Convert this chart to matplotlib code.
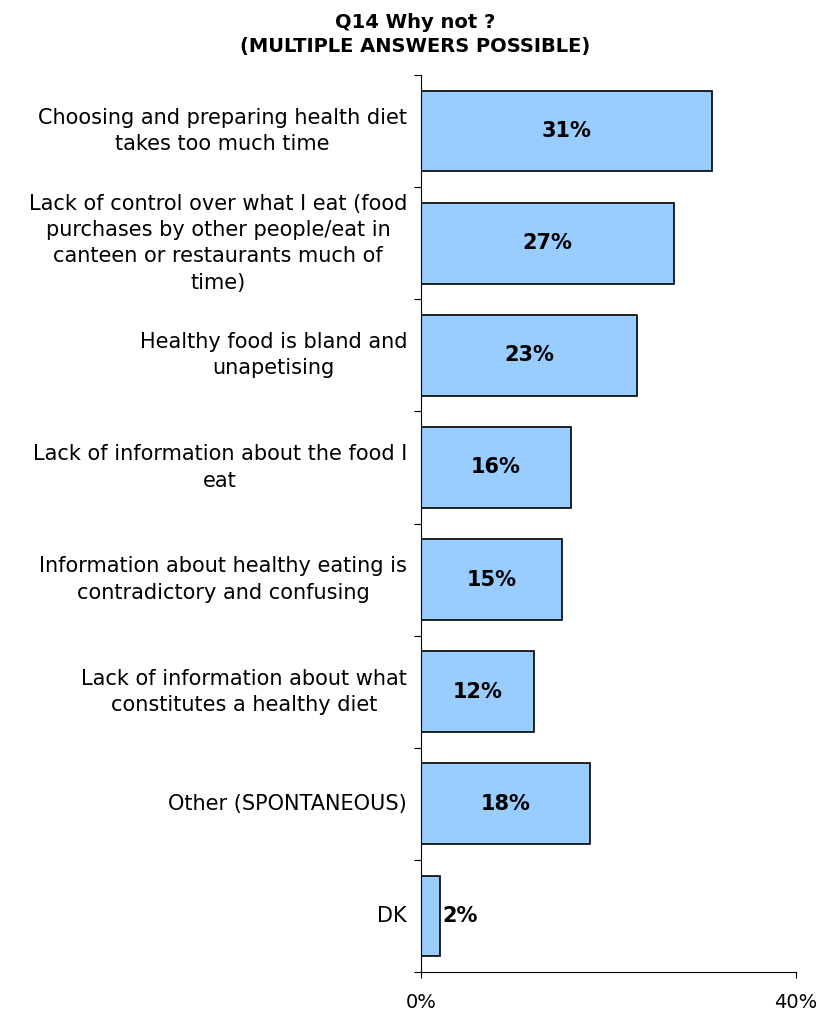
import numpy as np
import matplotlib.pyplot as plt

categories = [
    "Choosing and preparing health diet\ntakes too much time",
    "Lack of control over what I eat (food\npurchases by other people/eat in\ncanteen or restaurants much of\ntime)",
    "Healthy food is bland and\nunapetising",
    "Lack of information about the food I\neat",
    "Information about healthy eating is\ncontradictory and confusing",
    "Lack of information about what\nconstitutes a healthy diet",
    "Other (SPONTANEOUS)",
    "DK",
]
values = [31, 27, 23, 16, 15, 12, 18, 2]
xticks = [0, 40]
xticklabels = ["0%", "40%"]

plt.rcParams['font.family'] = ['DejaVu Sans']

fig = plt.figure(figsize=(8.18, 10.11), dpi=100)
ax = fig.add_axes([421/818, 39/1011, 375/818, 897/1011])

n = len(categories)
pos = np.arange(n)
ax.barh(pos, values, height=0.72, color='#99CCFF', edgecolor='black', linewidth=1.2)
ax.set_ylim(n - 0.5, -0.5)
ax.set_xlim(0, 40)

for i, v in enumerate(values):
    if v < 5:
        ax.text(v + 0.3, i, f"{v}%", ha='left', va='center', fontsize=15, fontweight='bold')
    else:
        ax.text(v / 2, i, f"{v}%", ha='center', va='center', fontsize=15, fontweight='bold')

# category labels, centred lines, right edge near the axis
ax.set_yticks(np.arange(n + 1) - 0.5)
ax.set_yticklabels([])
ax.tick_params(axis='y', length=5, direction='out')
for i, c in enumerate(categories):
    ax.text(-0.037, i, c, transform=ax.get_yaxis_transform(), ha='right', va='center',
            fontsize=15, linespacing=1.39, multialignment='center')

ax.set_xticks(xticks)
ax.set_xticklabels(xticklabels, fontsize=14)
ax.tick_params(axis='x', length=4, direction='out', pad=11)

ax.spines['top'].set_visible(False)
ax.spines['right'].set_visible(False)

fig.text(0.508, 0.987, "Q14 Why not ?\n(MULTIPLE ANSWERS POSSIBLE)", ha='center', va='top',
         fontsize=14, fontweight='bold', linespacing=1.3)

fig.savefig('out.png', dpi=100)
